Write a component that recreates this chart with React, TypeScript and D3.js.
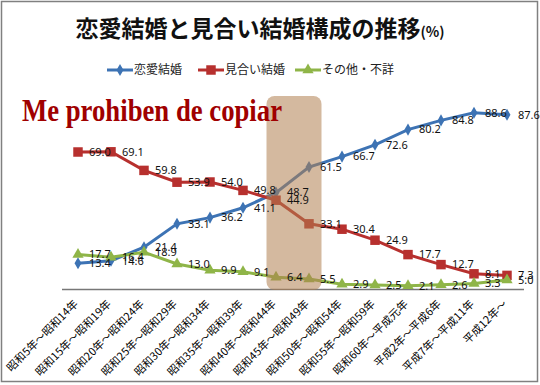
import { useEffect, useRef } from "react";
import * as d3 from "d3";

const categories = [
  "昭和5年～昭和14年",
  "昭和15年～昭和19年",
  "昭和20年～昭和24年",
  "昭和25年～昭和29年",
  "昭和30年～昭和34年",
  "昭和35年～昭和39年",
  "昭和40年～昭和44年",
  "昭和45年～昭和49年",
  "昭和50年～昭和54年",
  "昭和55年～昭和59年",
  "昭和60年～平成元年",
  "平成2年～平成6年",
  "平成7年～平成11年",
  "平成12年～",
];

const renai = [13.4, 14.6, 21.4, 33.1, 36.2, 41.1, 48.7, 61.5, 66.7, 72.6, 80.2, 84.8, 88.6, 87.6];
const miai = [69.0, 69.1, 59.8, 53.9, 54.0, 49.8, 44.9, 33.1, 30.4, 24.9, 17.7, 12.7, 8.1, 7.3];
const other = [17.7, 16.4, 18.9, 13.0, 9.9, 9.1, 6.4, 5.5, 2.9, 2.5, 2.1, 2.6, 3.3, 5.0];

const seriesNames = ["恋愛結婚", "見合い結婚", "その他・不詳"];
const seriesColors = ["#3d73b4", "#b7302e", "#8fb548"];
const seriesShapes = ["diamond", "square", "triangle"];

const title = "恋愛結婚と見合い結婚構成の推移";
const titleUnit = "(%)";
const watermark = "Me prohiben de copiar";
const highlightCat = categories[7];

export default function App() {
  const svgRef = useRef<SVGSVGElement>(null);
  const width = 540;
  const height = 385;

  useEffect(() => {
    const svg = d3.select(svgRef.current);
    svg.selectAll("*").remove();

    const left = 61.5;
    const right = 523.5;
    const top = 90;
    const bottom = 290;

    const x = d3.scaleBand().domain(categories).range([left, right]);
    const y = d3.scaleLinear().domain([0, 100]).range([bottom, top]);
    const cx = (c: string) => (x(c) as number) + x.bandwidth() / 2;

    svg.append("rect").attr("width", width).attr("height", height).attr("fill", "white");
    svg.append("rect")
      .attr("x", 1.5).attr("y", 1.5)
      .attr("width", 536).attr("height", 380)
      .attr("fill", "none")
      .attr("stroke", "#808080")
      .attr("stroke-width", 1.5);

    // title
    const t = svg.append("text")
      .attr("x", 260)
      .attr("y", 37)
      .attr("text-anchor", "middle")
      .style("font-family", "'Noto Sans CJK JP', sans-serif")
      .style("font-weight", "bold")
      .style("font-size", "23px")
      .attr("fill", "#111");
    t.append("tspan").text(title);
    t.append("tspan").style("font-size", "14px").text(titleUnit);

    const shape = (s: string) =>
      s === "diamond" ? d3.symbol(d3.symbolDiamond, 42)()
        : s === "square" ? d3.symbol(d3.symbolSquare, 90)()
        : d3.symbol(d3.symbolTriangle, 55)();

    // legend
    const legX = [107, 198, 295];
    seriesNames.forEach((name, i) => {
      const g = svg.append("g").attr("transform", `translate(${legX[i]},70)`);
      g.append("line").attr("x1", 0).attr("x2", 26).attr("stroke", seriesColors[i]).attr("stroke-width", 3);
      g.append("path").attr("d", shape(seriesShapes[i])).attr("transform", "translate(13,0)").attr("fill", seriesColors[i]);
      g.append("text")
        .attr("x", 27)
        .attr("dy", "0.35em")
        .style("font-family", "'Noto Sans CJK JP', sans-serif")
        .style("font-size", "12px")
        .attr("fill", "#222")
        .text(name);
    });

    // axis
    const axis = svg.append("g")
      .attr("transform", `translate(0,${bottom - 1})`)
      .call(d3.axisBottom(x).tickSize(0).tickSizeOuter(0));
    axis.select(".domain").attr("stroke", "#777").attr("stroke-width", 1.5);
    axis.selectAll("text")
      .attr("transform", "translate(-2,13) rotate(-45)")
      .attr("y", 0)
      .attr("dy", "0.35em")
      .style("text-anchor", "end")
      .style("font-family", "'Noto Sans CJK JP', sans-serif")
      .style("font-size", "11px")
      .attr("fill", "#000");

    const data = [renai, miai, other];
    const line = d3.line<number>()
      .x((_, i) => cx(categories[i]))
      .y((d) => y(d));

    data.forEach((vals, si) => {
      svg.append("path")
        .datum(vals)
        .attr("d", line)
        .attr("fill", "none")
        .attr("stroke", seriesColors[si])
        .attr("stroke-width", 3);
      svg.append("g")
        .selectAll("path")
        .data(vals)
        .enter()
        .append("path")
        .attr("d", shape(seriesShapes[si]))
        .attr("transform", (d, i) => `translate(${cx(categories[i])},${y(d)})`)
        .attr("fill", seriesColors[si]);
    });

    // highlight band
    const hx = x(highlightCat) as number;
    svg.append("rect")
      .attr("x", hx - 26)
      .attr("y", 96)
      .attr("width", 55)
      .attr("height", bottom - 96)
      .attr("rx", 8)
      .attr("fill", "#b08050")
      .attr("opacity", 0.55);

    // data labels
    data.forEach((vals) => {
      svg.append("g")
        .selectAll("text")
        .data(vals)
        .enter()
        .append("text")
        .attr("x", (d, i) => cx(categories[i]) + 11)
        .attr("y", (d) => y(d))
        .attr("dy", "0.35em")
        .style("font-family", "'Noto Sans', sans-serif")
        .style("font-size", "11px")
        .attr("fill", "#111")
        .text((d) => d.toFixed(1));
    });

    svg.append("text")
      .attr("x", 22)
      .attr("y", 121)
      .attr("textLength", 260)
      .attr("lengthAdjust", "spacingAndGlyphs")
      .style("font-family", "'Liberation Serif', serif")
      .style("font-weight", "bold")
      .style("font-size", "32px")
      .attr("fill", "#a00000")
      .text(watermark);
  }, []);

  return (
    <svg
      ref={svgRef}
      width={width}
      height={height}
      style={{ position: "absolute", left: 0, top: 0 }}
    ></svg>
  );
}
